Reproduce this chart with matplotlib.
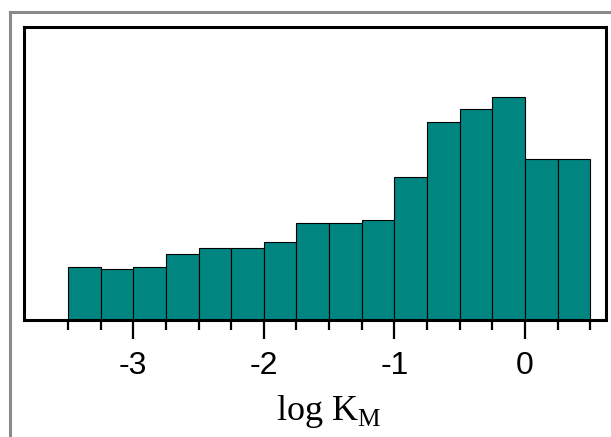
import numpy as np
import matplotlib
matplotlib.use('Agg')
import matplotlib.pyplot as plt
from matplotlib.lines import Line2D
import matplotlib.transforms as mtransforms

# DATA (bar heights, arbitrary units)
bin_left = [-3.5, -3.25, -3.0, -2.75, -2.5, -2.25, -2.0, -1.75,
            -1.5, -1.25, -1.0, -0.75, -0.5, -0.25, 0.0, 0.25]
counts = [52.8, 50.2, 52.8, 65.5, 71.5, 71.5, 77.5, 96.2,
          96.2, 99.5, 142.5, 197.8, 210.5, 222.5, 160.8, 160.8]
bin_width = 0.25
major_ticks = [-3, -2, -1, 0]
major_labels = ['-3', '-2', '-1', '0']
minor_ticks = [-3.5, -3.25, -2.75, -2.5, -2.25, -1.75, -1.5, -1.25,
               -0.75, -0.5, -0.25, 0.25, 0.5]

plt.rcParams['axes.unicode_minus'] = False
plt.rcParams['mathtext.fontset'] = 'custom'
plt.rcParams['mathtext.rm'] = 'Liberation Serif'

W, H = 611, 437
fig = plt.figure(figsize=(W/100, H/100), dpi=100)

# outer grey frame (only top and left edges are visible)
fx, fy = 9.7/W, 1 - 12.2/H
fig.add_artist(Line2D([fx, fx], [-0.1, fy], transform=fig.transFigure,
                      color='#8a8a8a', lw=2.2, solid_capstyle='projecting'))
fig.add_artist(Line2D([fx, 1.1], [fy, fy], transform=fig.transFigure,
                      color='#8a8a8a', lw=2.2, solid_capstyle='projecting'))

ax = fig.add_axes([24/W, 1 - 319.5/H, (605.5 - 24)/W, (319.5 - 27)/H])
ax.bar(bin_left, counts, width=bin_width, align='edge',
       color='#008581', edgecolor='black', linewidth=0.8)

ax.set_xlim(-3.836, 0.616)
ax.set_ylim(0, 292.5)

for s in ax.spines.values():
    s.set_linewidth(2.2)
    s.set_color('black')

ax.set_yticks([])
ax.set_xticks(major_ticks)
ax.set_xticklabels(major_labels, fontfamily='Liberation Sans', fontsize=23)
ax.set_xticks(minor_ticks, minor=True)
ax.tick_params(axis='x', which='major', direction='out', length=14,
               width=1.6, color='black', pad=9)
ax.tick_params(axis='x', which='minor', direction='out', length=7,
               width=1.6, color='black')

# axis title centred under the bar range
trans = mtransforms.blended_transform_factory(ax.transData, fig.transFigure)
ax.text(-1.5, (H - 420)/H, r'log K$_{\mathrm{M}}$', transform=trans,
        ha='center', va='baseline', fontfamily='Liberation Serif',
        fontsize=26, color='black')

plt.savefig('out.png', dpi=100)
